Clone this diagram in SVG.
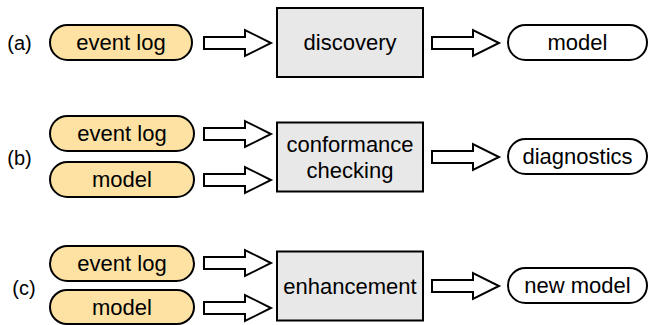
<svg xmlns="http://www.w3.org/2000/svg" width="650" height="325" viewBox="0 0 650 325">
<style>
text{font-family:"Liberation Sans",Arial,Helvetica,sans-serif;font-size:22px;fill:#000;text-anchor:middle;dominant-baseline:central}
.lbl{font-size:20px}
.in{fill:#fde2a4;stroke:#000;stroke-width:2}
.out{fill:#fff;stroke:#000;stroke-width:2}
.box{fill:#e8e8e8;stroke:#000;stroke-width:2}
.arr{fill:#fff;stroke:#000;stroke-width:2;stroke-linejoin:miter}
</style>
<defs>
<path id="ar" d="M0,-6 H41 V-13 L67,0 L41,13 V6 H0 Z"/>
</defs>
<g id="labels">
<text class="lbl" x="19.5" y="43">(a)</text>
<text class="lbl" x="19.5" y="158">(b)</text>
<text class="lbl" x="24" y="288">(c)</text>
</g>
<g id="a-eventlog"><rect class="in" x="50" y="25" width="142" height="35" rx="17.5"/><text x="121" y="42.5">event log</text></g>
<g id="a-discovery"><rect class="box" x="277" y="8" width="146" height="69"/><text x="350" y="42.5">discovery</text></g>
<g id="a-model"><rect class="out" x="508" y="25" width="139" height="35" rx="17.5"/><text x="577.5" y="42.5">model</text></g>
<g id="b-eventlog"><rect class="in" x="50" y="116" width="144" height="35" rx="17.5"/><text x="122" y="133.5">event log</text></g>
<g id="b-model"><rect class="in" x="50" y="162" width="144" height="35" rx="17.5"/><text x="122" y="179.5">model</text></g>
<g id="b-conformance"><rect class="box" x="277" y="122.5" width="146" height="69"/><text x="350" y="144">conformance</text><text x="350" y="170">checking</text></g>
<g id="b-diagnostics"><rect class="out" x="508" y="139" width="139" height="35" rx="17.5"/><text x="577.5" y="156.5">diagnostics</text></g>
<g id="c-eventlog"><rect class="in" x="50" y="246" width="144" height="35" rx="17.5"/><text x="122" y="263.5">event log</text></g>
<g id="c-model"><rect class="in" x="50" y="290" width="144" height="34" rx="17"/><text x="122" y="307">model</text></g>
<g id="c-enhancement"><rect class="box" x="277" y="251.5" width="146" height="69"/><text x="350" y="286">enhancement</text></g>
<g id="c-newmodel"><rect class="out" x="508" y="268" width="139" height="35" rx="17.5"/><text x="577.5" y="285.5">new model</text></g>
<g id="connectors">
<use href="#ar" class="arr" x="204" y="43"/>
<use href="#ar" class="arr" x="432" y="43"/>
<use href="#ar" class="arr" x="204" y="134"/>
<use href="#ar" class="arr" x="204" y="180"/>
<use href="#ar" class="arr" x="432" y="157"/>
<use href="#ar" class="arr" x="204" y="263"/>
<use href="#ar" class="arr" x="204" y="308"/>
<use href="#ar" class="arr" x="432" y="286"/>
</g>
</svg>
